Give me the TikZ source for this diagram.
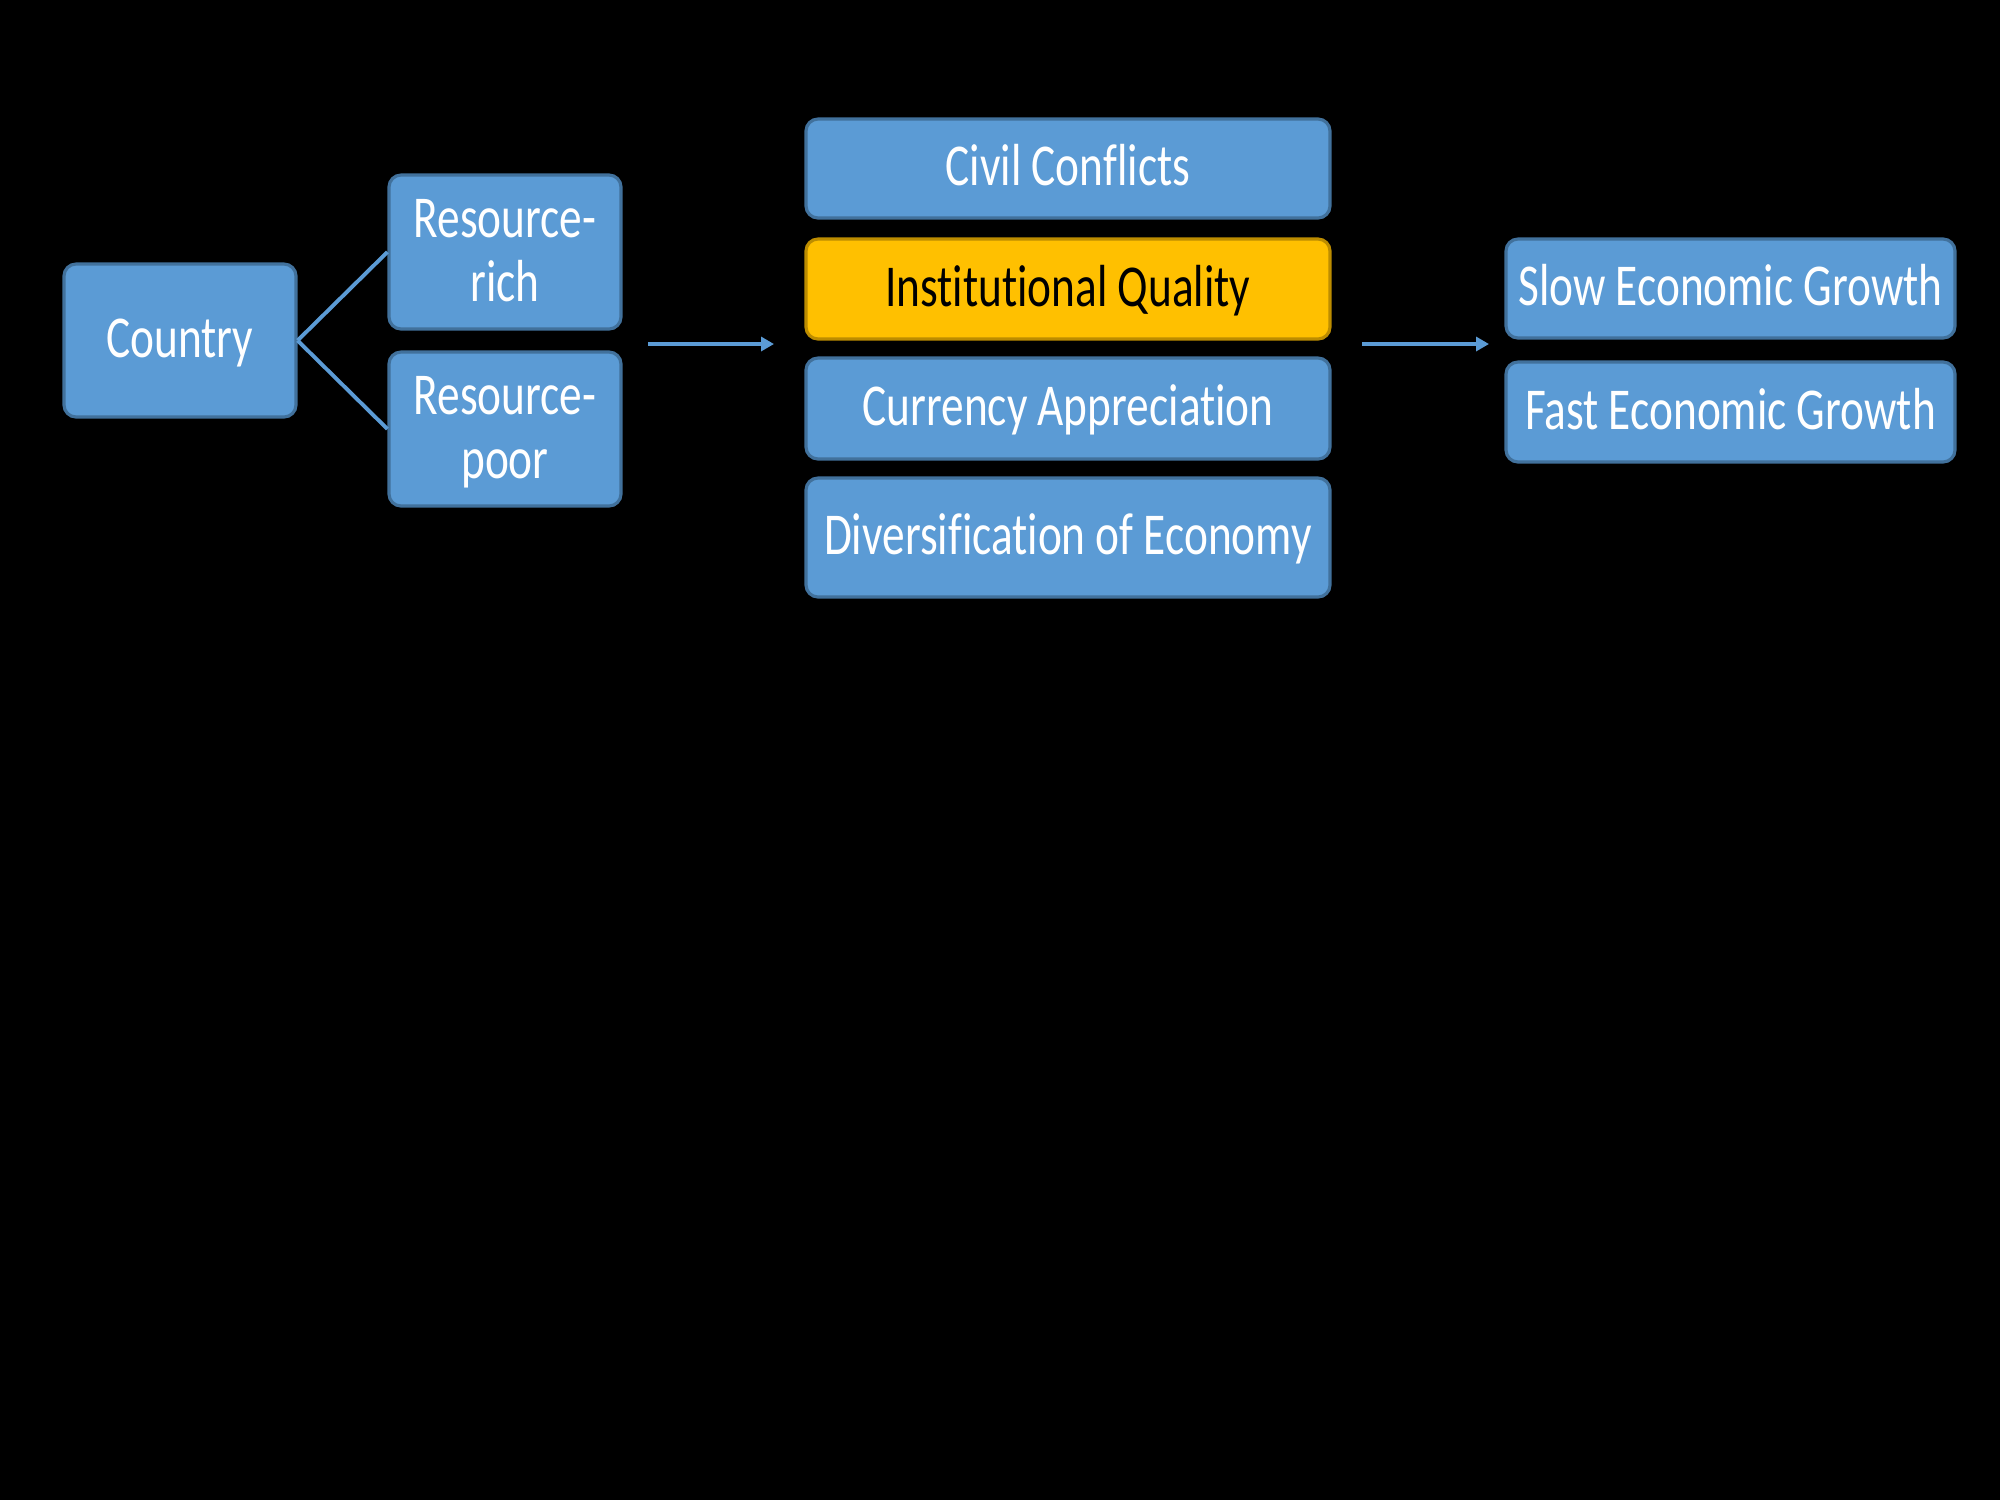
\documentclass[tikz,border=0pt]{standalone}
\usepackage{fontspec}
\setmainfont[Ligatures={NoCommon}]{Carlito}
\usetikzlibrary{arrows.meta}
\definecolor{boxblue}{HTML}{5B9BD5}
\definecolor{boxedge}{HTML}{41719C}
\definecolor{boxgold}{HTML}{FFC000}
\definecolor{goldedge}{HTML}{BC8C00}
\newcommand{\stretchtxt}[1]{\raisebox{-0.45mm}[\height][\depth]{\scalebox{1}[1.31]{\begin{tabular}{@{}c@{}}#1\end{tabular}}}}
\tikzset{
  bbox/.style={draw=boxedge, fill=boxblue, line width=0.9pt, rounded corners=1.2mm,
    inner sep=0pt, text=white, font=\fontsize{12.9}{13.9}\selectfont},
  gbox/.style={bbox, draw=goldedge, fill=boxgold, text=black},
  conn/.style={draw=boxblue, line width=1.1pt},
  arr/.style={conn, -{Triangle[length=1.3mm,width=1.4mm]}}
}
\begin{document}
\begin{tikzpicture}
\fill[black] (0,0) rectangle (20,-15);
\useasboundingbox (0,0) rectangle (20,-15);
\node[bbox, minimum width=2.32cm, minimum height=1.53cm] (country) at (1.80,-3.405) {\stretchtxt{Country}};
\node[bbox, minimum width=2.32cm, minimum height=1.54cm] (rich) at (5.05,-2.52) {\stretchtxt{Resource-\\rich}};
\node[bbox, minimum width=2.32cm, minimum height=1.54cm] (poor) at (5.05,-4.29) {\stretchtxt{Resource-\\poor}};
\node[bbox, minimum width=5.24cm, minimum height=0.99cm] (civil) at (10.68,-1.685) {\stretchtxt{Civil Conflicts}};
\node[gbox, minimum width=5.24cm, minimum height=1.00cm] (inst) at (10.68,-2.89) {\stretchtxt{Institutional Quality}};
\node[bbox, minimum width=5.24cm, minimum height=1.01cm] (curr) at (10.68,-4.085) {\stretchtxt{Currency Appreciation}};
\node[bbox, minimum width=5.24cm, minimum height=1.19cm] (div) at (10.68,-5.375) {\stretchtxt{Diversification of Economy}};
\node[bbox, minimum width=4.49cm, minimum height=0.99cm] (slow) at (17.305,-2.885) {\stretchtxt{Slow Economic Growth}};
\node[bbox, minimum width=4.49cm, minimum height=1.00cm] (fast) at (17.305,-4.12) {\stretchtxt{Fast Economic Growth}};
\draw[conn] (country.east) -- (rich.west);
\draw[conn] (country.east) -- (poor.west);
\coordinate (a1s) at (6.48,-3.44);
\coordinate (a1e) at (7.74,-3.44);
\coordinate (a2s) at (13.62,-3.44);
\coordinate (a2e) at (14.89,-3.44);
\draw[arr] (a1s) -- (a1e);
\draw[arr] (a2s) -- (a2e);
\end{tikzpicture}
\end{document}
